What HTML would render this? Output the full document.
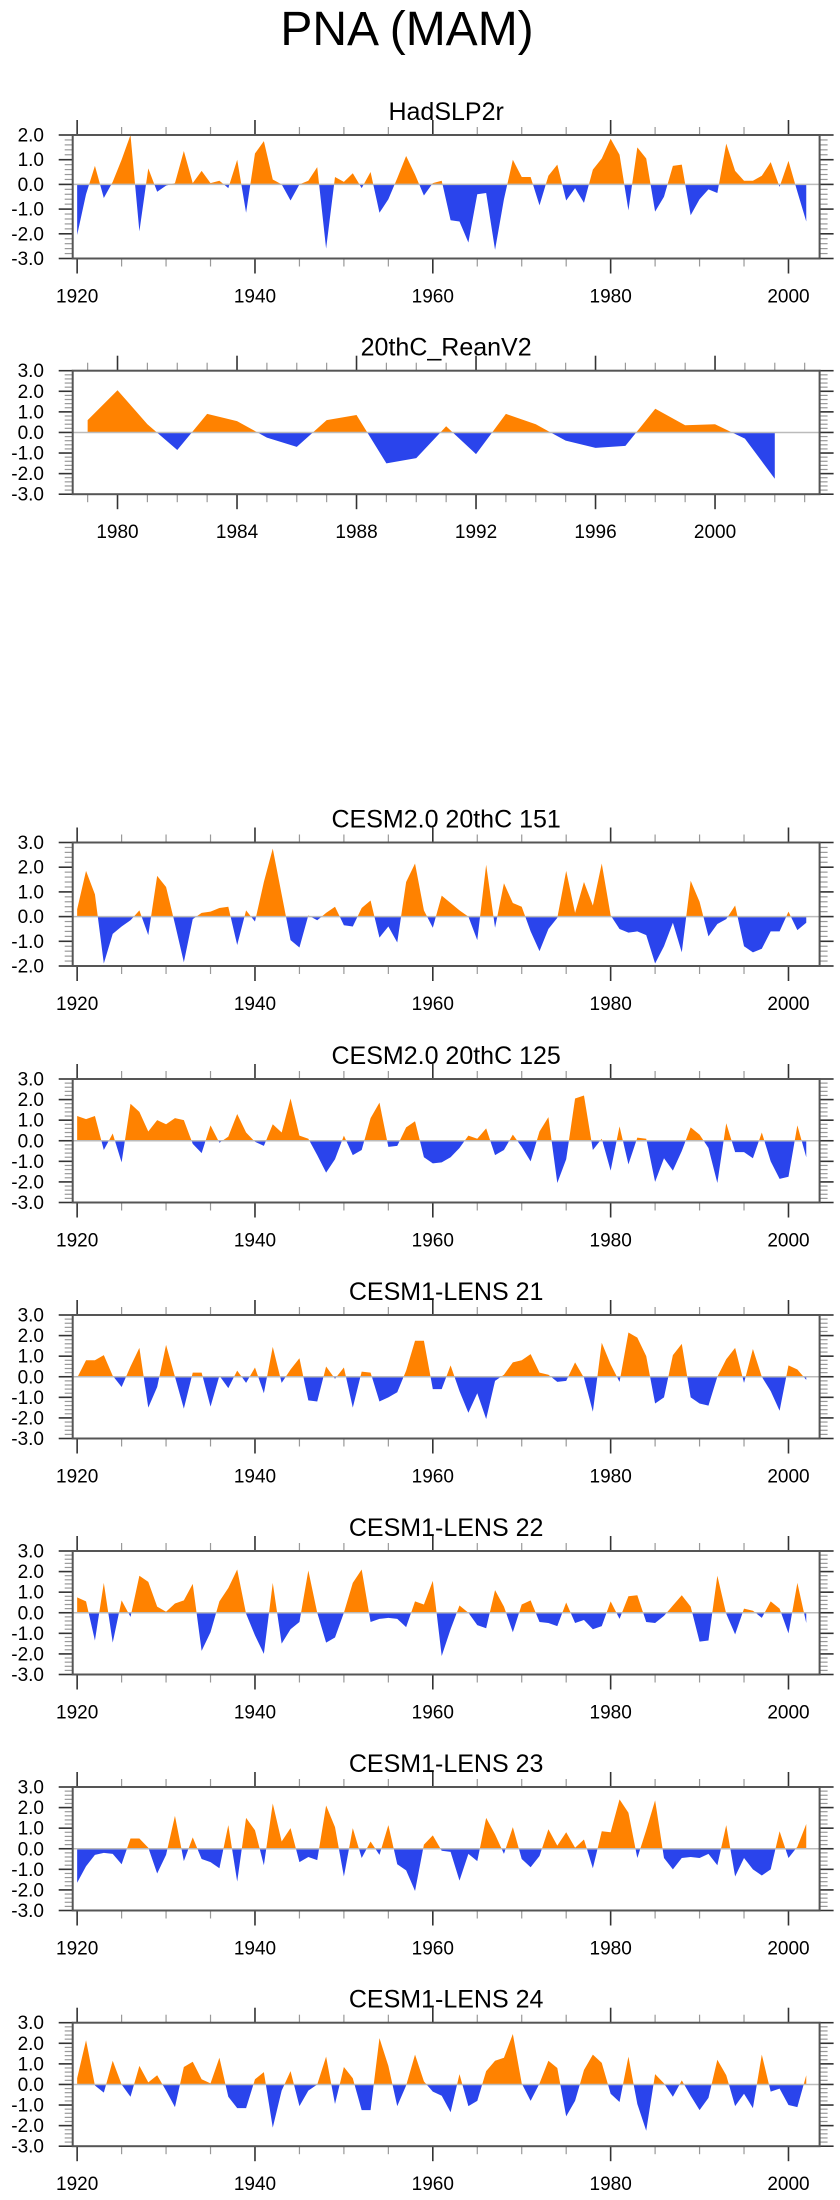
<!DOCTYPE html>
<html><head><meta charset="utf-8">
<style>
html,body{margin:0;padding:0;background:#fff;}
svg{display:block;font-family:"Liberation Sans",sans-serif;}
</style></head>
<body>
<svg id="chart" width="840" height="2200" viewBox="0 0 840 2200" xmlns="http://www.w3.org/2000/svg">
<rect width="840" height="2200" fill="#fff"/>
<text id="mainTitle" x="407" y="45" font-size="48" text-anchor="middle" fill="#000">PNA (MAM)</text>
</svg>
<script>
const hadTitle = "HadSLP2r";
const hadVals = [-2.05,-0.4,0.75,-0.55,0.1,1.0,2.0,-1.9,0.65,-0.3,-0.05,0.05,1.35,0.05,0.55,0.05,0.15,-0.15,1.0,-1.15,1.25,1.75,0.2,0.0,-0.65,0.0,0.15,0.7,-2.6,0.3,0.1,0.45,-0.15,0.5,-1.15,-0.6,0.25,1.15,0.4,-0.45,0.05,0.15,-1.45,-1.5,-2.35,-0.4,-0.35,-2.65,-0.6,1.0,0.3,0.3,-0.85,0.35,0.8,-0.65,-0.15,-0.75,0.6,1.05,1.85,1.2,-1.05,1.5,1.05,-1.1,-0.5,0.75,0.8,-1.25,-0.6,-0.2,-0.35,1.65,0.55,0.15,0.15,0.35,0.9,-0.1,0.95,-0.3,-1.5];
const reanTitle = "20thC_ReanV2";
const reanYears = [1979,1980,1981,1982,1983,1984,1985,1986,1987,1988,1989,1990,1991,1992,1993,1994,1995,1996,1997,1998,1999,2000,2001,2002];
const reanVals = [0.6,2.05,0.4,-0.85,0.9,0.55,-0.25,-0.7,0.6,0.85,-1.5,-1.25,0.3,-1.05,0.9,0.4,-0.4,-0.75,-0.65,1.15,0.35,0.4,-0.3,-2.25];
const c151Vals = [0.3,1.85,0.9,-1.9,-0.7,-0.4,-0.15,0.25,-0.75,1.65,1.2,-0.3,-1.85,-0.1,0.15,0.2,0.35,0.4,-1.15,0.25,-0.2,1.4,2.75,0.9,-0.95,-1.25,0.05,-0.15,0.15,0.4,-0.35,-0.4,0.35,0.65,-0.85,-0.4,-1.05,1.4,2.15,0.25,-0.45,0.85,0.55,0.25,0.0,-0.95,2.1,-0.45,1.35,0.55,0.4,-0.6,-1.4,-0.5,-0.05,1.85,0.15,1.4,0.45,2.15,0.05,-0.5,-0.65,-0.6,-0.75,-1.9,-1.2,-0.25,-1.45,1.45,0.6,-0.8,-0.3,-0.1,0.45,-1.2,-1.45,-1.3,-0.6,-0.6,0.2,-0.55,-0.25];
const c125Vals = [1.2,1.05,1.2,-0.45,0.35,-1.05,1.8,1.4,0.45,1.0,0.8,1.1,1.0,-0.15,-0.6,0.75,-0.1,0.2,1.3,0.4,-0.05,-0.25,0.8,0.4,2.05,0.25,0.1,-0.7,-1.55,-0.9,0.25,-0.7,-0.45,1.1,1.85,-0.3,-0.25,0.65,0.95,-0.8,-1.1,-1.05,-0.8,-0.35,0.25,0.1,0.6,-0.7,-0.45,0.3,-0.3,-1.0,0.45,1.15,-2.05,-0.9,2.05,2.2,-0.45,0.1,-1.45,0.7,-1.15,0.15,0.1,-2.0,-0.85,-1.45,-0.5,0.65,0.3,-0.35,-2.05,0.85,-0.55,-0.55,-0.85,0.4,-1.0,-1.85,-1.75,0.75,-0.8];
const l21Vals = [-0.05,0.8,0.8,1.05,0.05,-0.5,0.5,1.4,-1.5,-0.5,1.55,0.0,-1.55,0.2,0.2,-1.45,0.05,-0.55,0.3,-0.3,0.45,-0.8,1.45,-0.3,0.35,0.9,-1.15,-1.2,0.5,-0.1,0.45,-1.5,0.25,0.2,-1.2,-1.0,-0.75,0.3,1.75,1.75,-0.6,-0.6,0.55,-0.7,-1.75,-0.8,-2.05,-0.2,0.1,0.7,0.8,1.1,0.2,0.1,-0.25,-0.2,0.7,-0.05,-1.7,1.65,0.6,-0.25,2.15,1.9,1.0,-1.3,-1.0,1.05,1.6,-1.0,-1.3,-1.4,0.0,0.85,1.4,-0.3,1.35,0.0,-0.7,-1.65,0.55,0.35,-0.15];
const l22Vals = [0.75,0.55,-1.35,1.45,-1.45,0.6,-0.2,1.8,1.5,0.3,0.05,0.45,0.6,1.4,-1.85,-0.95,0.55,1.2,2.1,-0.05,-1.1,-2.0,1.45,-1.5,-0.8,-0.45,2.05,0.0,-1.45,-1.2,0.0,1.45,2.1,-0.45,-0.3,-0.25,-0.3,-0.7,0.55,0.4,1.55,-2.1,-0.8,0.35,0.0,-0.6,-0.75,1.1,0.3,-0.95,0.4,0.6,-0.45,-0.5,-0.65,0.5,-0.5,-0.35,-0.8,-0.65,0.55,-0.3,0.8,0.85,-0.45,-0.5,-0.15,0.35,0.85,0.3,-1.4,-1.35,1.8,-0.05,-1.05,0.2,0.1,-0.25,0.55,0.2,-1.0,1.45,-0.5];
const l23Vals = [-1.65,-0.85,-0.3,-0.2,-0.25,-0.75,0.5,0.5,0.05,-1.2,-0.3,1.6,-0.6,0.55,-0.5,-0.65,-0.95,1.15,-1.6,1.5,0.9,-0.8,2.2,0.35,1.0,-0.65,-0.4,-0.55,2.1,1.05,-1.35,1.0,-0.45,0.35,-0.3,1.15,-0.75,-1.05,-2.05,0.2,0.65,-0.1,-0.15,-1.55,-0.25,-0.6,1.5,0.7,-0.25,1.05,-0.5,-0.9,-0.35,0.95,0.15,0.8,0.05,0.45,-0.95,0.85,0.8,2.4,1.75,-0.45,0.9,2.35,-0.45,-1.0,-0.45,-0.4,-0.45,-0.25,-0.8,1.15,-1.35,-0.45,-1.0,-1.3,-1.0,0.85,-0.45,0.1,1.2];
const l24Vals = [0.3,2.15,-0.05,-0.4,1.15,0.0,-0.6,0.9,0.1,0.45,-0.3,-1.1,0.85,1.1,0.25,0.05,1.3,-0.6,-1.15,-1.15,0.25,0.6,-2.1,-0.3,0.65,-1.05,-0.3,0.0,1.35,-0.95,0.85,0.3,-1.25,-1.25,2.25,0.9,-1.05,-0.05,1.45,0.15,-0.35,-0.55,-1.35,0.5,-1.05,-0.8,0.65,1.15,1.3,2.45,0.05,-0.8,0.05,1.15,0.8,-1.55,-0.8,0.7,1.45,1.05,-0.45,-0.85,1.35,-0.95,-2.25,0.5,0.05,-0.6,0.2,-0.55,-1.25,-0.65,1.2,0.45,-1.05,-0.45,-1.15,1.45,-0.35,-0.2,-1.0,-1.1,0.45];
const centuryTicks = [1920,1940,1960,1980,2000];
const reanTicks = [1980,1984,1988,1992,1996,2000];

const NS = "http://www.w3.org/2000/svg";
const svg = document.getElementById('chart');
const BOX_L = 72.7, BOX_R = 819.6;
const ORANGE = "#FF8200", BLUE = "#2A44EC";

function mk(tag, attrs, parent) {
  const e = document.createElementNS(NS, tag);
  for (const k in attrs) e.setAttribute(k, attrs[k]);
  (parent || svg).appendChild(e);
  return e;
}
function seq(a, n) { const r = []; for (let i = 0; i < n; i++) r.push(a + i); return r; }

function panel(cfg) {
  const g = mk('g', {});
  
  
  const top = cfg.top, bot = cfg.top + 123.5;
  const xS = v => BOX_L + (v - cfg.x0) / (cfg.x1 - cfg.x0) * (BOX_R - BOX_L);
  const yS = v => bot - (v - cfg.y0) / (cfg.y1 - cfg.y0) * (bot - top);

  // title
  const t = mk('text', {x: (BOX_L + BOX_R) / 2, y: top - 15, 'font-size': 25, 'text-anchor': 'middle', fill: '#000'}, g);
  
  
  t.textContent = cfg.title;

  // fills
  const yrs = cfg.years, vals = cfg.vals;
  const pts = [];
  for (let i = 0; i < vals.length; i++) {
    pts.push([yrs[i], vals[i]]);
    if (i < vals.length - 1) {
      const a = vals[i], b = vals[i + 1];
      if ((a > 0 && b < 0) || (a < 0 && b > 0)) {
        const f = a / (a - b);
        pts.push([yrs[i] + f * (yrs[i + 1] - yrs[i]), 0]);
      }
    }
  }
  const x0 = xS(yrs[0]), xN = xS(yrs[yrs.length - 1]), z = yS(0);
  let pPos = x0 + ',' + z + ' ', pNeg = pPos;
  pts.forEach(p => {
    pPos += xS(p[0]) + ',' + yS(Math.max(p[1], 0)) + ' ';
    pNeg += xS(p[0]) + ',' + yS(Math.min(p[1], 0)) + ' ';
  });
  pPos += xN + ',' + z; pNeg += xN + ',' + z;
  const pp = mk('polygon', {points: pPos, fill: ORANGE}, g);
  
  
  const pn = mk('polygon', {points: pNeg, fill: BLUE}, g);
  
  

  // zero line
  const zl = mk('line', {x1: BOX_L, x2: BOX_R, y1: z, y2: z, stroke: '#bbb', 'stroke-width': 1.5}, g);
  
  

  // y ticks
  for (let k = Math.round(cfg.y0 * 5); k <= Math.round(cfg.y1 * 5); k++) {
    const v = k / 5, y = yS(v), major = (k % 5 === 0);
    const len = major ? 14 : 8, col = major ? '#333' : '#999';
    mk('line', {x1: BOX_L - len, x2: BOX_L, y1: y, y2: y, stroke: col, 'stroke-width': major ? 1.6 : 1.2}, g);
    mk('line', {x1: BOX_R, x2: BOX_R + len, y1: y, y2: y, stroke: col, 'stroke-width': major ? 1.6 : 1.2}, g);
    if (major) {
      const lt = mk('text', {x: 44, y: y + 6.5, 'font-size': 19, 'text-anchor': 'end', fill: '#000'}, g);
      
      
      lt.textContent = v.toFixed(1);
    }
  }
  // x ticks
  for (let yv = Math.ceil(cfg.x0); yv <= cfg.x1; yv++) {
    const major = cfg.majors.indexOf(yv) >= 0;
    const minor = !major && (yv % cfg.minorStep === 0);
    if (!major && !minor) continue;
    const x = xS(yv), len = major ? 15 : 8, col = major ? '#333' : '#999';
    mk('line', {x1: x, x2: x, y1: top - len, y2: top, stroke: col, 'stroke-width': major ? 1.6 : 1.2}, g);
    mk('line', {x1: x, x2: x, y1: bot, y2: bot + len, stroke: col, 'stroke-width': major ? 1.6 : 1.2}, g);
  }
  cfg.majors.forEach(yv => {
    const lt = mk('text', {x: xS(yv), y: bot + 44, 'font-size': 19, 'text-anchor': 'middle', fill: '#000'}, g);
    
    
    lt.textContent = String(yv);
  });
  // frame
  const fr = mk('rect', {x: BOX_L, y: top, width: BOX_R - BOX_L, height: bot - top, fill: 'none', stroke: '#555', 'stroke-width': 2}, g);
  
  
}

const cent = {x0: 1919.5, x1: 2003.5, majors: centuryTicks, minorStep: 5};
const cy = seq(1920, 83);
panel(Object.assign({name: 'panel-hadslp2r', title: hadTitle, top: 135, y0: -3, y1: 2, years: cy, vals: hadVals}, cent));
panel({name: 'panel-20thc-reanv2', title: reanTitle, top: 370.7, y0: -3, y1: 3, years: reanYears, vals: reanVals, x0: 1978.5, x1: 2003.5, majors: reanTicks, minorStep: 1});
panel(Object.assign({name: 'panel-cesm2-151', title: 'CESM2.0 20thC 151', top: 842.5, y0: -2, y1: 3, years: cy, vals: c151Vals}, cent));
panel(Object.assign({name: 'panel-cesm2-125', title: 'CESM2.0 20thC 125', top: 1079, y0: -3, y1: 3, years: cy, vals: c125Vals}, cent));
panel(Object.assign({name: 'panel-lens-21', title: 'CESM1-LENS 21', top: 1315, y0: -3, y1: 3, years: cy, vals: l21Vals}, cent));
panel(Object.assign({name: 'panel-lens-22', title: 'CESM1-LENS 22', top: 1551, y0: -3, y1: 3, years: cy, vals: l22Vals}, cent));
panel(Object.assign({name: 'panel-lens-23', title: 'CESM1-LENS 23', top: 1787, y0: -3, y1: 3, years: cy, vals: l23Vals}, cent));
panel(Object.assign({name: 'panel-lens-24', title: 'CESM1-LENS 24', top: 2022.7, y0: -3, y1: 3, years: cy, vals: l24Vals}, cent));
</script>
</body></html>
